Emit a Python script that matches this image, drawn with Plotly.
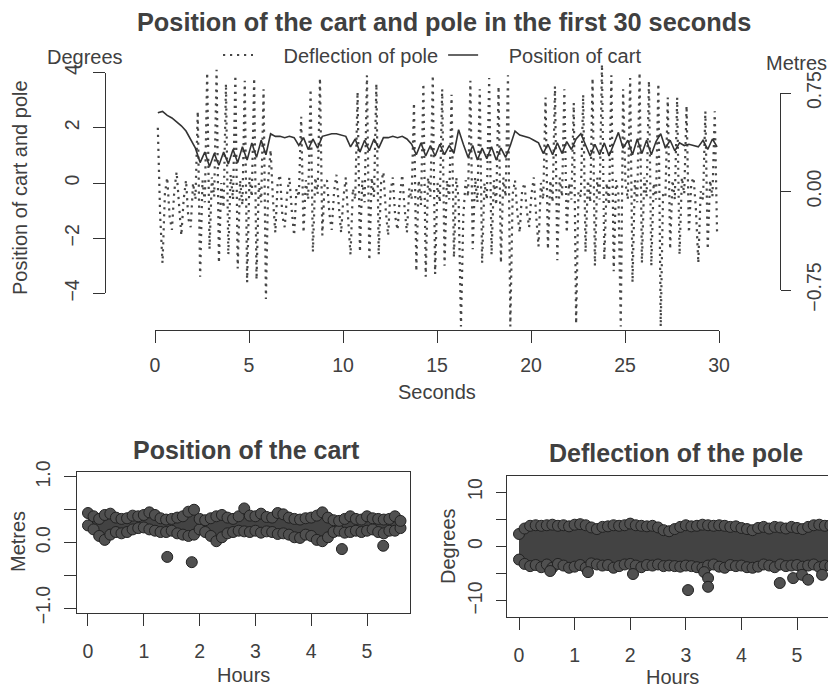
import plotly.graph_objects as go

W, H = 828, 690


def fx(p):
    """Horizontal pixel position -> paper coordinate."""
    return p / W


def fy(p):
    """Vertical pixel position (from top) -> paper coordinate."""
    return 1 - p / H


# ---------------------------------------------------------------------------
# Top panel: first 30 seconds
# pole deflection sampled every 0.125 s, cart position every 0.25 s
# ---------------------------------------------------------------------------
pole_t0, pole_dt = 0.15, 0.125
cart_t0, cart_dt = 0.15, 0.25

pole_deg = [
    2.0, -1.2, -2.9, -0.4,   0.2, -1.2, -1.7, -0.3,   0.4, -0.9, -1.9, -0.6,
    0.1, -1.3, -1.6, 0.0,   -0.6, 2.6, -3.4, 0.1,   -0.7, 4.0, -2.4, 0.2,
    -0.5, 4.1, -2.9, 0.0,   -0.9, 3.6, -2.6, 0.3,   -0.6, 3.9, -3.1, 0.1,
    -0.8, 3.7, -3.6, 0.2,   -0.5, 3.8, -3.5, 0.0,   -0.7, 3.4, -4.2, 0.1,
    1.2, -0.6, -1.8, 0.0,   0.3, -1.2, -1.6, -0.4,   0.2, -1.0, -1.9, -0.2,
    -0.5, 2.4, -1.8, 0.1,   -0.6, 3.4, -2.5, 0.2,   -0.4, 3.8, -1.9, 0.0,
    0.1, -1.1, -1.7, -0.3,   0.3, -0.8, -1.8, -0.5,   0.2, -1.3, -2.6, -0.2,
    -0.6, 3.3, -2.5, 0.1,   -0.7, 3.9, -2.8, 0.2,   -0.5, 3.6, -2.6, 0.0,
    0.4, -1.0, -1.9, -0.3,   0.2, -1.2, -1.7, -0.5,   0.3, -0.9, -1.8, -0.2,
    -0.6, 2.9, -3.2, 0.1,   -0.8, 3.6, -3.4, 0.2,   -0.5, 3.9, -3.3, 0.0,
    -0.7, 3.4, -3.0, 0.1,   -0.6, 3.2, -2.7, 0.2,   -0.6, -5.2, -1.2, 0.1,
    -0.5, 3.7, -2.4, 0.2,   -0.7, 3.4, -2.9, 0.0,   -0.6, 3.8, -2.6, 0.1,
    -0.8, 3.5, -2.9, 0.2,   -0.5, 3.9, -5.2, -0.4,   0.1, -1.1, -1.8, -0.3,
    0.0, -1.0, -1.6, -0.4,   0.2, -1.2, -2.3, 0.0,   -0.6, 3.1, -2.4, 0.1,
    -0.7, 3.5, -2.8, 0.2,   -0.5, 3.4, -1.8, 0.0,   -0.6, 2.9, -5.1, -0.3,
    -0.5, 3.2, -2.5, 0.1,   -0.7, 3.8, -3.0, 0.2,   -0.6, 4.3, -2.8, 0.0,
    -0.8, 3.9, -3.2, 0.1,   -0.4, -5.2, 3.4, 0.0,   -0.6, 3.8, -3.6, 0.1,
    -0.7, 4.0, -2.9, 0.2,   -0.5, 3.7, -3.0, 0.0,   -0.6, 3.6, -5.2, -0.4,
    -0.5, 3.1, -2.4, 0.1,   -0.6, 3.1, -2.6, 0.2,   -0.4, 2.8, -1.8, 0.0,
    0.2, -1.0, -2.9, -0.3,   -0.6, 2.6, -2.4, 0.1,   -0.5, 2.6, -1.9,
]

cart_m = [
    0.60, 0.61, 0.58, 0.56, 0.53, 0.50, 0.46, 0.39,
    0.33, 0.22, 0.30, 0.19, 0.29, 0.20, 0.30, 0.21, 0.32, 0.22, 0.34, 0.24,
    0.37, 0.26, 0.39, 0.28, 0.44, 0.42, 0.42, 0.41, 0.42, 0.41,
    0.35, 0.41, 0.32, 0.40, 0.33, 0.42, 0.43, 0.44, 0.44, 0.43, 0.42,
    0.34, 0.40, 0.30, 0.39, 0.31, 0.40, 0.33, 0.41, 0.41, 0.42, 0.41, 0.42, 0.40,
    0.36, 0.28, 0.37, 0.27, 0.35, 0.27, 0.36, 0.28, 0.35, 0.29, 0.47,
    0.36, 0.26, 0.35, 0.24, 0.33, 0.25, 0.34, 0.24, 0.33, 0.26, 0.35, 0.46,
    0.43, 0.42, 0.41, 0.39, 0.37,
    0.29, 0.36, 0.28, 0.37, 0.29, 0.38, 0.32, 0.40,
    0.44, 0.36, 0.27, 0.36, 0.28, 0.37, 0.27, 0.36, 0.45, 0.33, 0.39, 0.28,
    0.40, 0.29, 0.39, 0.28, 0.38, 0.44,
    0.33, 0.39, 0.31, 0.37, 0.35, 0.36, 0.35, 0.34, 0.39, 0.32, 0.40, 0.34,
]

pole_seconds = [round(pole_t0 + pole_dt * i, 3) for i in range(len(pole_deg))]
cart_seconds = [round(cart_t0 + cart_dt * i, 3) for i in range(len(cart_m))]

# ---------------------------------------------------------------------------
# Bottom panels: whole run, envelope of the dense point cloud every 0.1 h
# plus the isolated points that stand apart from it
# ---------------------------------------------------------------------------
hours = [round(0.1 * i, 1) for i in range(57)]

cart_upper = [
    0.45, 0.40, 0.36, 0.42, 0.44, 0.38, 0.36, 0.37, 0.41, 0.40,
    0.42, 0.46, 0.42, 0.37, 0.35, 0.36, 0.38, 0.40, 0.47, 0.50,
    0.36, 0.34, 0.37, 0.40, 0.42, 0.38, 0.36, 0.40, 0.52, 0.41,
    0.40, 0.44, 0.39, 0.38, 0.45, 0.43, 0.38, 0.36, 0.35, 0.37,
    0.38, 0.41, 0.46, 0.38, 0.34, 0.33, 0.36, 0.40, 0.36, 0.35,
    0.40, 0.37, 0.36, 0.35, 0.36, 0.40, 0.33,
]
cart_lower = [
    0.26, 0.20, 0.10, 0.04, 0.12, 0.16, 0.14, 0.16, 0.20, 0.22,
    0.23, 0.20, 0.18, 0.16, 0.16, 0.18, 0.14, 0.12, 0.10, 0.12,
    0.20, 0.16, 0.10, 0.02, 0.08, 0.14, 0.16, 0.18, 0.17, 0.16,
    0.18, 0.15, 0.17, 0.16, 0.13, 0.14, 0.12, 0.08, 0.07, 0.12,
    0.10, 0.04, 0.02, 0.08, 0.16, 0.18, 0.15, 0.16, 0.18, 0.16,
    0.18, 0.20, 0.16, 0.14, 0.18, 0.18, 0.22,
]
cart_out_h = [1.42, 1.86, 4.55, 5.29]
cart_out_m = [-0.22, -0.30, -0.10, -0.05]

pole_upper = [
    2.3, 3.3, 3.8, 3.9, 3.8, 3.9, 4.0, 3.8, 3.9, 3.7,
    4.0, 4.1, 3.9, 3.5, 3.2, 3.6, 3.7, 3.9, 3.8, 3.9,
    4.2, 3.9, 3.8, 3.7, 3.8, 3.5, 3.0, 2.8, 3.2, 3.6,
    3.9, 3.7, 3.8, 4.0, 3.9, 3.8, 3.9, 3.8, 3.6, 3.7,
    3.4, 3.2, 3.0, 3.4, 3.6, 3.3, 3.6, 3.5, 3.3, 3.6,
    3.4, 3.2, 3.6, 3.9, 4.0, 3.8, 3.9,
]
pole_lower = [
    -2.4, -3.2, -3.6, -3.4, -3.8, -3.3, -3.9, -3.2, -3.5, -3.9,
    -3.7, -3.4, -3.9, -3.1, -3.3, -3.5, -3.4, -3.9, -3.6, -3.3,
    -3.2, -3.5, -3.8, -3.4, -3.5, -3.3, -3.6, -3.5, -3.6, -3.7,
    -3.5, -3.6, -3.8, -3.9, -3.5, -3.3, -3.7, -3.9, -3.4, -3.6,
    -3.5, -3.8, -3.9, -3.7, -3.3, -3.5, -3.8, -3.3, -3.6, -3.5,
    -3.4, -3.7, -3.5, -3.3, -3.8, -3.5, -3.6,
]
pole_out_h = [0.56, 1.24, 2.05, 3.04, 3.33, 3.40, 3.40, 4.69, 4.93, 5.09, 5.20, 5.45]
pole_out_deg = [-4.5, -4.7, -5.05, -8.0, -4.7, -5.8, -7.4, -6.7, -5.8, -5.2, -6.1, -5.2]

# ---------------------------------------------------------------------------
INK = "#333333"
TXT = "#404040"
DOT = "#474747"
FONT = "Liberation Sans, Arial, Helvetica, sans-serif"
pt_marker = dict(size=11, color="#505050", line=dict(color="#222222", width=1))

fig = go.Figure()

fig.add_trace(go.Scatter(
    x=pole_seconds, y=pole_deg, mode="lines", xaxis="x", yaxis="y",
    name="\u2003\u00a0Deflection of pole", legendrank=1,
    line=dict(color=DOT, width=2.2, dash="2.2px,4.8px"),
))
fig.add_trace(go.Scatter(
    x=cart_seconds, y=cart_m, mode="lines", xaxis="x", yaxis="y4",
    name="\u2003\u00a0Position of cart", legendrank=2,
    line=dict(color=INK, width=1.6),
))
# carrier for the degrees axis on the left
fig.add_trace(go.Scatter(x=[], y=[], xaxis="x", yaxis="y3", showlegend=False))

# cart position over the whole run
fig.add_trace(go.Scatter(
    x=hours, y=cart_lower, mode="lines+markers", xaxis="x2", yaxis="y5",
    line=dict(width=0, color="#444444"), marker=pt_marker, showlegend=False,
))
fig.add_trace(go.Scatter(
    x=hours, y=cart_upper, mode="lines+markers", xaxis="x2", yaxis="y5",
    line=dict(width=0, color="#444444"), marker=pt_marker, showlegend=False,
    fill="tonexty", fillcolor="#434343",
))
fig.add_trace(go.Scatter(
    x=cart_out_h, y=cart_out_m, mode="markers", xaxis="x2", yaxis="y5",
    marker=pt_marker, showlegend=False,
))

# pole deflection over the whole run
fig.add_trace(go.Scatter(
    x=hours, y=pole_lower, mode="lines+markers", xaxis="x3", yaxis="y6",
    line=dict(width=0, color="#444444"), marker=pt_marker, showlegend=False,
))
fig.add_trace(go.Scatter(
    x=hours, y=pole_upper, mode="lines+markers", xaxis="x3", yaxis="y6",
    line=dict(width=0, color="#444444"), marker=pt_marker, showlegend=False,
    fill="tonexty", fillcolor="#434343",
))
fig.add_trace(go.Scatter(
    x=pole_out_h, y=pole_out_deg, mode="markers", xaxis="x3", yaxis="y6",
    marker=pt_marker, showlegend=False,
))

tick_font = dict(family=FONT, size=19.5, color=TXT)
axis_common = dict(
    showgrid=False, zeroline=False, showline=True, linecolor=INK, linewidth=1.3,
    ticks="outside", tickcolor=INK, tickwidth=1.3, tickfont=tick_font,
    automargin=False,
)

# degree scale for the top panel: 0 deg at 183 px, 27.6 px per degree
deg0, deg_px = 183.0, 27.6

fig.update_layout(
    template="none",
    width=W, height=H,
    margin=dict(l=0, r=0, t=0, b=0, pad=0, autoexpand=False),
    paper_bgcolor="white", plot_bgcolor="rgba(0,0,0,0)",
    font=dict(family=FONT, size=20, color=TXT),
    hovermode=False,
    showlegend=True,
    legend=dict(
        orientation="h", x=fx(218), y=fy(55), xanchor="left", yanchor="middle",
        font=dict(family=FONT, size=20, color=TXT), bgcolor="rgba(0,0,0,0)",
        itemwidth=30, tracegroupgap=0, borderwidth=0, traceorder="normal",
    ),
    xaxis=dict(
        **axis_common, domain=[fx(155), fx(719)], range=[0, 30], anchor="y",
        tickvals=[0, 5, 10, 15, 20, 25, 30], ticklen=12, ticklabelstandoff=5,
    ),
    yaxis=dict(
        domain=[fy(330), fy(60)],
        range=[(deg0 - 330) / deg_px, (deg0 - 60) / deg_px],
        visible=False, fixedrange=True, automargin=False,
    ),
    yaxis3=dict(
        **axis_common,
        domain=[fy(deg0 + 4 * deg_px), fy(deg0 - 4 * deg_px)], range=[-4, 4],
        anchor="free", position=fx(105), side="left",
        tickvals=[-4, -2, 0, 2, 4], tickangle=-90, ticklen=12, ticklabelstandoff=6,
    ),
    yaxis4=dict(
        **axis_common,
        domain=[fy(290), fy(93)], range=[-0.75, 0.75],
        anchor="free", position=fx(780), side="right",
        tickvals=[-0.75, 0, 0.75], ticktext=["\u22120.75", "0.00", "0.75"],
        tickangle=-90, ticklen=10, ticklabelstandoff=6,
    ),
    xaxis2=dict(
        **axis_common, mirror=True, domain=[fx(77), fx(410)],
        range=[-0.197, 5.77], anchor="y5",
        tickvals=[0, 1, 2, 3, 4, 5], ticklen=12, ticklabelstandoff=8,
    ),
    yaxis5=dict(
        **axis_common, mirror=True, domain=[fy(613), fy(472)],
        range=[-1.076, 1.076], anchor="x2",
        tickvals=[-1, -0.5, 0, 0.5, 1],
        ticktext=["\u22121.0", "", "0.0", "", "1.0"],
        tickangle=-90, ticklen=12, ticklabelstandoff=6,
    ),
    xaxis3=dict(
        **axis_common, mirror=True, domain=[fx(507), 1.0],
        range=[-0.216, 5.557], anchor="y6",
        tickvals=[0, 1, 2, 3, 4, 5], ticklen=12, ticklabelstandoff=8,
    ),
    yaxis6=dict(
        **axis_common, domain=[fy(617), fy(476)],
        range=[-12.94, 12.94], anchor="x3",
        tickvals=[-10, -5, 0, 5, 10],
        ticktext=["\u221210", "", "0", "", "10"],
        tickangle=-90, ticklen=10, ticklabelstandoff=6,
    ),
)


def label(text, x, y, size=20, bold=False, angle=0):
    fig.add_annotation(
        text=f"<b>{text}</b>" if bold else text,
        x=fx(x), y=fy(y), xref="paper", yref="paper",
        xanchor="center", yanchor="middle", showarrow=False, textangle=angle,
        font=dict(family=FONT, size=size, color=TXT),
    )


label("Position of the cart and pole in the first 30 seconds", 444, 22, size=25.3, bold=True)
label("Degrees", 85, 57)
label("Metres", 796, 63)
label("Position of cart and pole", 20, 188, angle=-90)
label("Seconds", 437, 392)

label("Position of the cart", 246, 450, size=25, bold=True)
label("Hours", 243, 675)
label("Metres", 18, 542, angle=-90)

label("Deflection of the pole", 676, 453, size=25, bold=True)
label("Hours", 672, 677)
label("Degrees", 448, 546, angle=-90)

fig.write_html("out.html")
